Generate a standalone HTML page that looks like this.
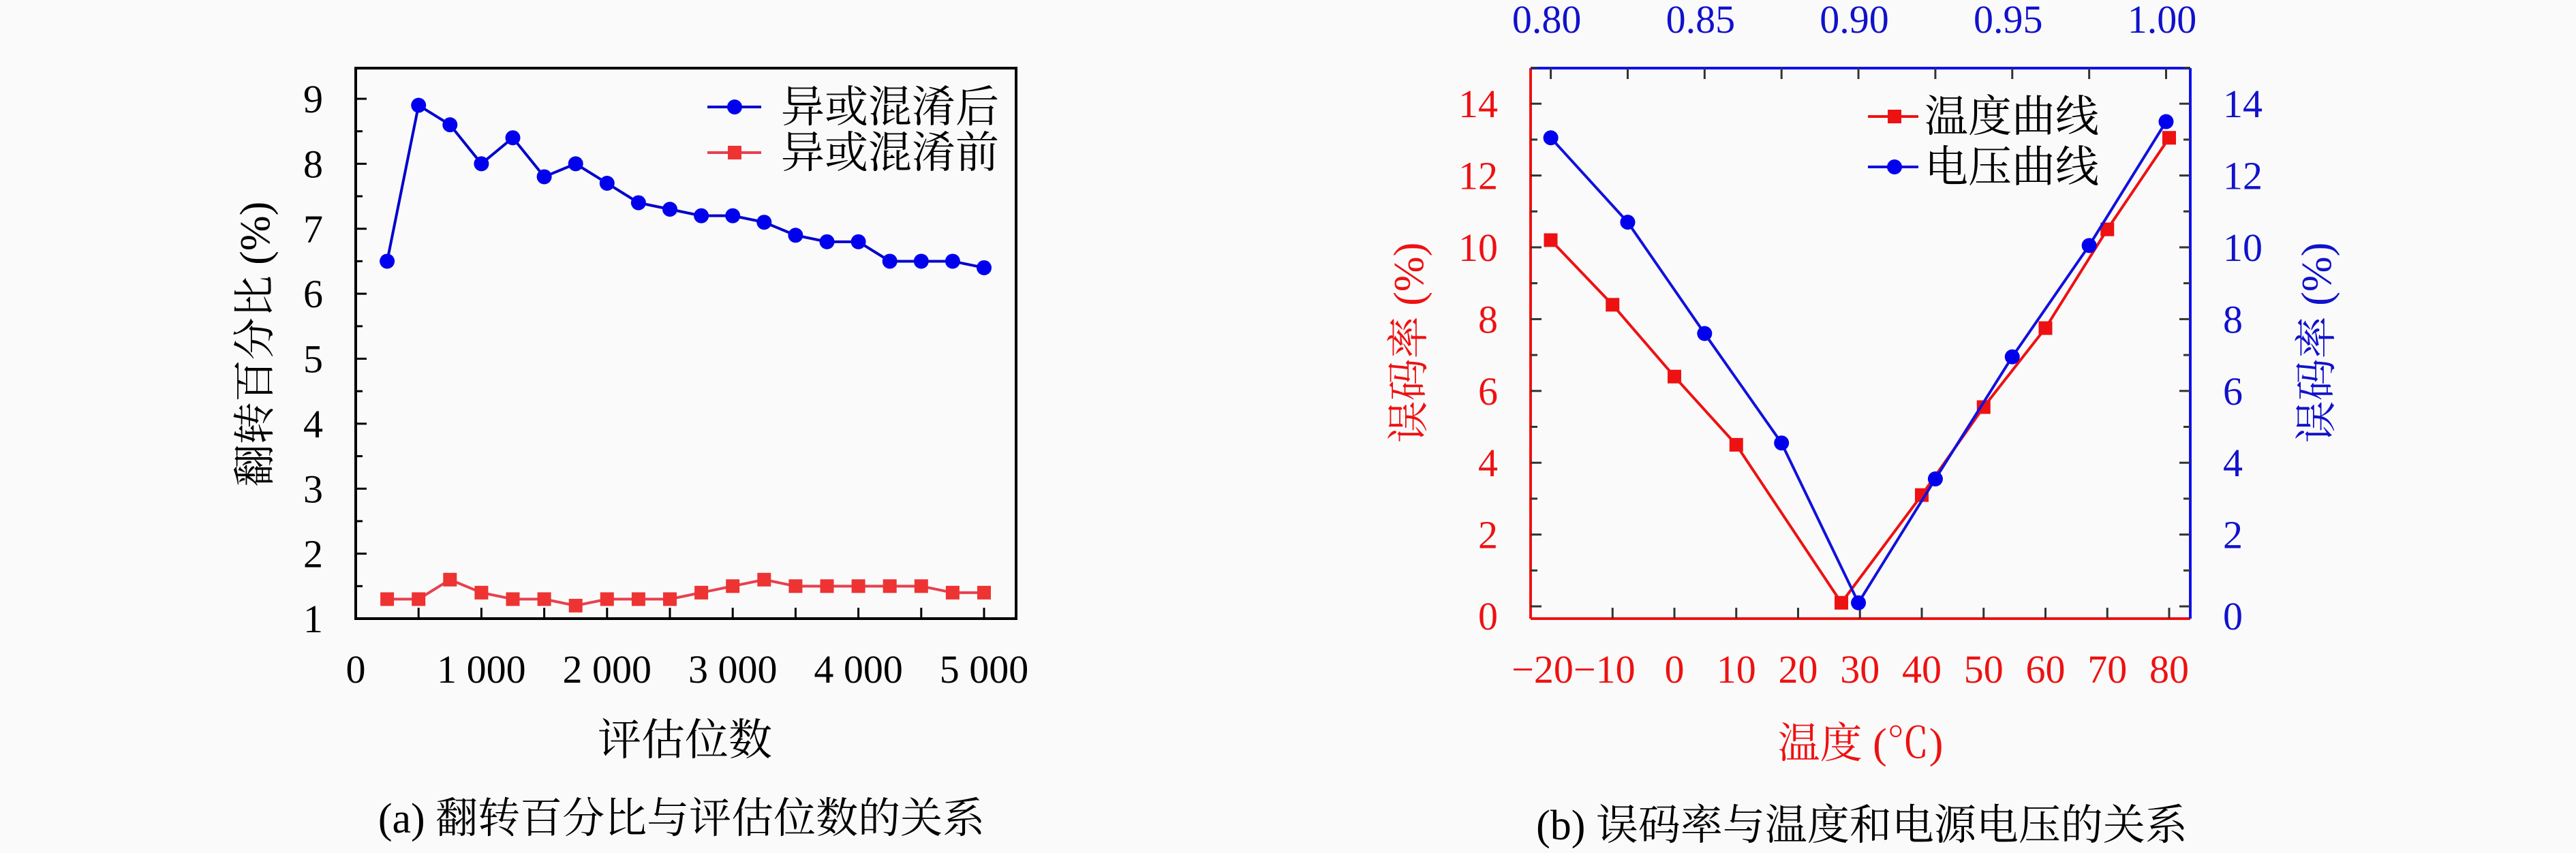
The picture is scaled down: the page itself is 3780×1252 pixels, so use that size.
<!DOCTYPE html>
<html><head><meta charset="utf-8"><style>
html,body{margin:0;padding:0;background:#fafafa;}
svg{display:block;}
svg text{font-family:"Liberation Serif","Noto Serif CJK SC",serif;}
</style></head><body>
<svg id="s" width="3780" height="1252" viewBox="0 0 3780 1252" xmlns="http://www.w3.org/2000/svg">
<rect width="3780" height="1252" fill="#fafafa"/>
<g id="ga"></g>
<g id="gb"></g>
</svg>
<script>
// Chart (a) data
const aBits = [250,500,750,1000,1250,1500,1750,2000,2250,2500,2750,3000,3250,3500,3750,4000,4250,4500,4750,5000];
const aAfter = [6.5,8.9,8.6,8.0,8.4,7.8,8.0,7.7,7.4,7.3,7.2,7.2,7.1,6.9,6.8,6.8,6.5,6.5,6.5,6.4];
const aBefore = [1.3,1.3,1.6,1.4,1.3,1.3,1.2,1.3,1.3,1.3,1.4,1.5,1.6,1.5,1.5,1.5,1.5,1.5,1.4,1.4];
const aXTicks = ["0","1 000","2 000","3 000","4 000","5 000"];
const aYTicks = ["1","2","3","4","5","6","7","8","9"];
// Chart (b) data
const bTemps = [-20,-10,0,10,27,40,50,60,70,80];
const bTempErr = [10.2,8.4,6.4,4.5,0.1,3.1,5.55,7.75,10.5,13.05];
const bVolts = [0.80,0.825,0.85,0.875,0.90,0.925,0.95,0.975,1.00];
const bVoltErr = [13.05,10.7,7.6,4.55,0.1,3.55,6.95,10.05,13.5];
const bTempTicks = ["−20","−10","0","10","20","30","40","50","60","70","80"];
const bVoltTicks = ["0.80","0.85","0.90","0.95","1.00"];
const bYTicks = ["0","2","4","6","8","10","12","14"];

const NS="http://www.w3.org/2000/svg";
function mk(parent,tag,attrs,text){const e=document.createElementNS(NS,tag);for(const k in attrs)e.setAttribute(k,attrs[k]);if(text!==undefined)e.textContent=text;parent.appendChild(e);return e;}

// ---------- Chart A ----------
const ga=document.getElementById('ga');
const aL=522,aR=1491,aT=100,aB=908;
const ax=v=>aL+v*(1444-aL)/5000;
const ay=v=>908-(v-1)*(908-145)/8;
let fr=mk(ga,'rect',{x:aL,y:aT,width:aR-aL,height:aB-aT,fill:'none',stroke:'#000','stroke-width':4});


for(let v=1;v<=9.01;v+=0.5){const major=Math.abs(v-Math.round(v))<0.01;
 let t=mk(ga,'line',{x1:aL,x2:aL+(major?16:10),y1:ay(v),y2:ay(v),stroke:'#000','stroke-width':3});
 
 }
for(let v=500;v<=5000;v+=500){
 let t=mk(ga,'line',{x1:ax(v),x2:ax(v),y1:aB,y2:aB-16,stroke:'#000','stroke-width':3});
 
 }
aYTicks.forEach((s,i)=>{let t=mk(ga,'text',{x:474,y:ay(+s)+20,'font-size':58,'text-anchor':'end',fill:'#000'},s);
 
 });
aXTicks.forEach((s,i)=>{let t=mk(ga,'text',{x:ax(i*1000),y:1002,'font-size':58,'text-anchor':'middle',fill:'#000'},s);
 
 });
let yt=mk(ga,'text',{x:0,y:0,'font-size':62,'text-anchor':'middle',fill:'#000',transform:'translate(395,505) rotate(-90)'},'翻转百分比 (%)');


let xt=mk(ga,'text',{x:1005,y:1108,'font-size':64,'text-anchor':'middle',fill:'#000'},'评估位数');


let ca=mk(ga,'text',{x:1000,y:1222,'font-size':62,'text-anchor':'middle',fill:'#000'},'(a) 翻转百分比与评估位数的关系');


let pl=mk(ga,'polyline',{points:aBefore.map((v,i)=>ax(aBits[i])+','+ay(v)).join(' '),fill:'none',stroke:'#e8404f','stroke-width':4});


aBefore.forEach((v,i)=>{let m=mk(ga,'rect',{x:ax(aBits[i])-10,y:ay(v)-10,width:20,height:20,fill:'#ee3333'});
 
 });
pl=mk(ga,'polyline',{points:aAfter.map((v,i)=>ax(aBits[i])+','+ay(v)).join(' '),fill:'none',stroke:'#0000cc','stroke-width':4});


aAfter.forEach((v,i)=>{let m=mk(ga,'circle',{cx:ax(aBits[i]),cy:ay(v),r:11,fill:'#0000ee'});
 
 });
// legend a
let lg=mk(ga,'g',{});


mk(lg,'line',{x1:1038,x2:1117,y1:157,y2:157,stroke:'#0000cc','stroke-width':4});
mk(lg,'circle',{cx:1078,cy:157,r:11,fill:'#0000ee'});
let le=mk(lg,'text',{x:1146,y:179,'font-size':64,fill:'#000'},'异或混淆后');


mk(lg,'line',{x1:1038,x2:1117,y1:224,y2:224,stroke:'#e8404f','stroke-width':4});
mk(lg,'rect',{x:1068,y:214,width:20,height:20,fill:'#ee3333'});
le=mk(lg,'text',{x:1146,y:246,'font-size':64,fill:'#000'},'异或混淆前');



// ---------- Chart B ----------
const gb=document.getElementById('gb');
const bL=2246,bR=3214,bT=100,bB=908;
const bx=t=>2457+t*9.075;
const bxv=v=>2275.6+(v-0.80)*(3178.5-2275.6)/0.20;
const by=v=>890-v*52.7;
let e;
e=mk(gb,'line',{x1:bL,x2:bL,y1:bT,y2:bB,stroke:'#ee1111','stroke-width':4});


e=mk(gb,'line',{x1:bL,x2:bR,y1:bB,y2:bB,stroke:'#ee1111','stroke-width':4});


e=mk(gb,'line',{x1:bL,x2:bR,y1:bT,y2:bT,stroke:'#1111ee','stroke-width':4});


e=mk(gb,'line',{x1:bR,x2:bR,y1:bT,y2:bB,stroke:'#1111ee','stroke-width':4});


for(let v=0;v<=15;v+=1){const major=v%2===0;
 e=mk(gb,'line',{x1:bL,x2:bL+(major?16:10),y1:by(v),y2:by(v),stroke:'#333','stroke-width':3});
 
 
 e=mk(gb,'line',{x1:bR,x2:bR-(major?16:10),y1:by(v),y2:by(v),stroke:'#333','stroke-width':3});
 
 }
for(let t=-10;t<=80;t+=10){
 e=mk(gb,'line',{x1:bx(t),x2:bx(t),y1:bB,y2:bB-16,stroke:'#333','stroke-width':3});
 
 }
for(let v=0.80;v<=1.0001;v+=0.025){
 e=mk(gb,'line',{x1:bxv(v),x2:bxv(v),y1:bT,y2:bT+16,stroke:'#333','stroke-width':3});
 
 }
bYTicks.forEach(s=>{
 e=mk(gb,'text',{x:2198,y:by(+s)+20+(s==='0'?14:0),'font-size':58,'text-anchor':'end',fill:'#ee1111'},s);
 
 
 e=mk(gb,'text',{x:3262,y:by(+s)+20+(s==='0'?14:0),'font-size':58,'text-anchor':'start',fill:'#1111cc'},s);
 
 });
bTempTicks.forEach((s,i)=>{const t=-20+i*10;
 e=mk(gb,'text',{x:bx(t)+(t<0?-12:0),y:1002,'font-size':58,'text-anchor':'middle',fill:'#ee1111'},s);
 
 });
bVoltTicks.forEach((s,i)=>{
 e=mk(gb,'text',{x:bxv(0.80+i*0.05)-6,y:48,'font-size':58,'text-anchor':'middle',fill:'#1111cc'},s);
 
 });
e=mk(gb,'text',{x:0,y:0,'font-size':62,'text-anchor':'middle',fill:'#ee1111',transform:'translate(2088,503) rotate(-90)'},'误码率 (%)');


e=mk(gb,'text',{x:0,y:0,'font-size':62,'text-anchor':'middle',fill:'#1111cc',transform:'translate(3420,503) rotate(-90)'},'误码率 (%)');


e=mk(gb,'text',{x:2730,y:1112,'font-size':62,'text-anchor':'middle',fill:'#ee1111'},'温度 (℃)');


e=mk(gb,'text',{x:2732,y:1232,'font-size':62,'text-anchor':'middle',fill:'#000'},'(b) 误码率与温度和电源电压的关系');


e=mk(gb,'polyline',{points:bTempErr.map((v,i)=>bx(bTemps[i])+','+by(v)).join(' '),fill:'none',stroke:'#ee1111','stroke-width':4});


bTempErr.forEach((v,i)=>{e=mk(gb,'rect',{x:bx(bTemps[i])-10,y:by(v)-10,width:20,height:20,fill:'#ee1111'});
 
 });
e=mk(gb,'polyline',{points:bVoltErr.map((v,i)=>bxv(bVolts[i])+','+by(v)).join(' '),fill:'none',stroke:'#1111dd','stroke-width':4});


bVoltErr.forEach((v,i)=>{e=mk(gb,'circle',{cx:bxv(bVolts[i]),cy:by(v),r:11,fill:'#0000ee'});
 
 });
lg=mk(gb,'g',{});


mk(lg,'line',{x1:2741,x2:2815,y1:171,y2:171,stroke:'#ee1111','stroke-width':4});
mk(lg,'rect',{x:2770,y:161,width:20,height:20,fill:'#ee1111'});
e=mk(lg,'text',{x:2824,y:193,'font-size':64,fill:'#000'},'温度曲线');


mk(lg,'line',{x1:2741,x2:2815,y1:245,y2:245,stroke:'#1111dd','stroke-width':4});
mk(lg,'circle',{cx:2780,cy:245,r:11,fill:'#0000ee'});
e=mk(lg,'text',{x:2824,y:267,'font-size':64,fill:'#000'},'电压曲线');


</script>
</body></html>
